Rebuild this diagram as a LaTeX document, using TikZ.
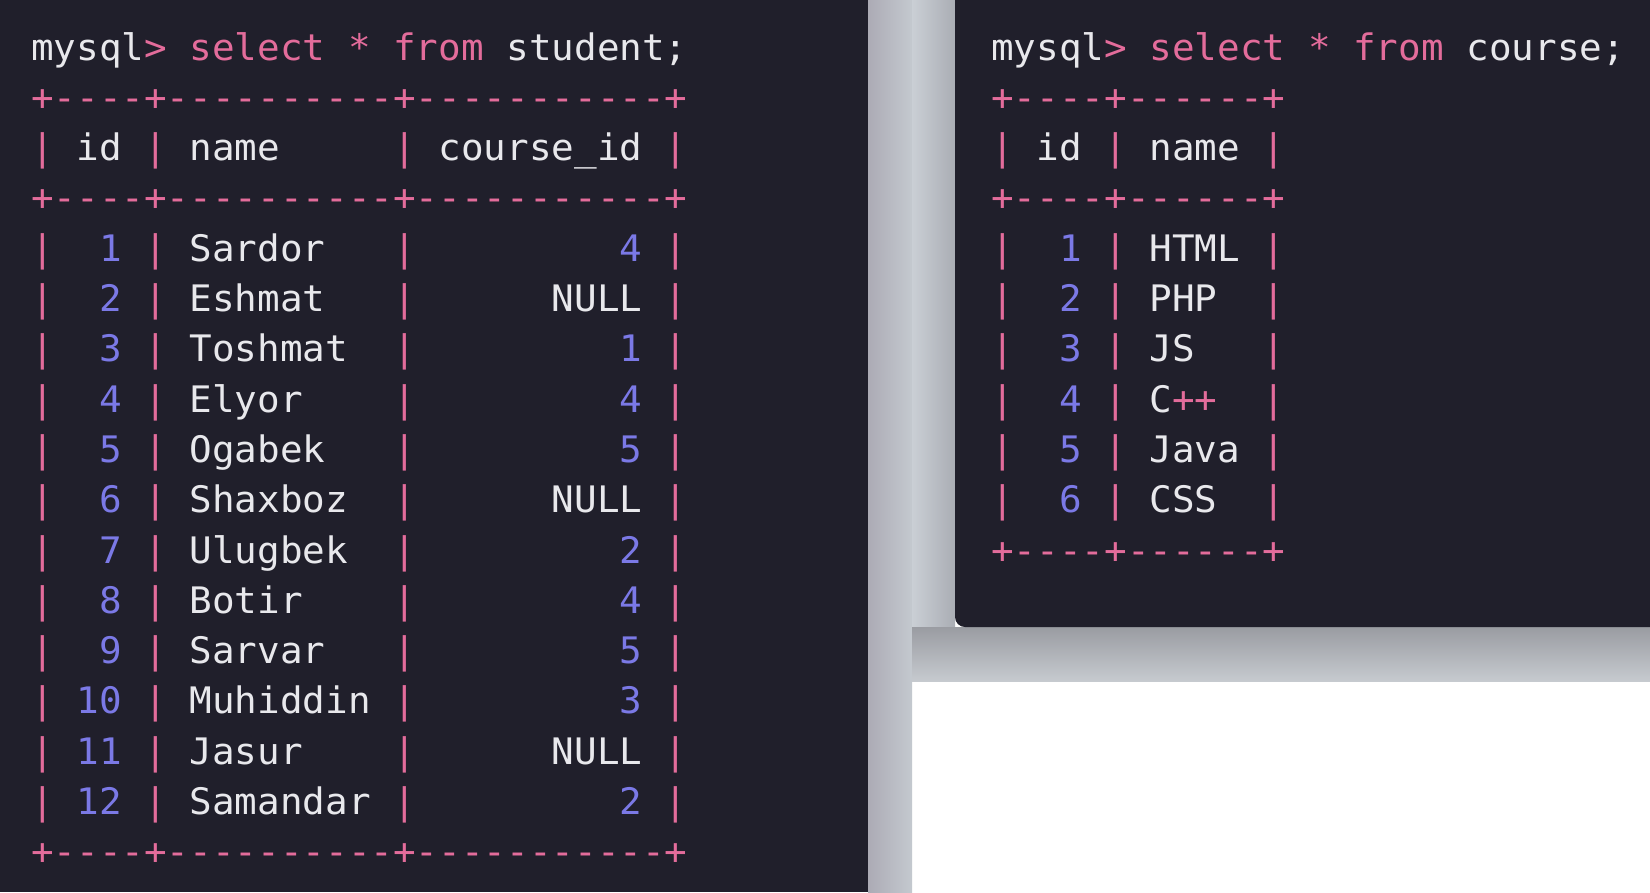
\documentclass[tikz,border=0pt]{standalone}
\usepackage{tikz}
\usepackage{fontspec}
\newfontfamily\sqlmono[Ligatures=TeXOff,FakeStretch=1.03]{DejaVu Sans Mono}
\definecolor{sqlpink}{RGB}{227,108,155}
\definecolor{sqlnum}{RGB}{123,121,230}
\definecolor{sqlwhite}{RGB}{232,232,236}
\newlength{\sqlcw}
\AtBeginDocument{\settowidth{\sqlcw}{\sqlmono\fontsize{36.5}{40}\selectfont 0}}
\newcommand{\pk}[1]{\textcolor{sqlpink}{#1}}
\newcommand{\nm}[1]{\textcolor{sqlnum}{#1}}
\newcommand{\sqlbar}{\pk{|}}
\newcommand{\sqlgap}{\hspace*{\sqlcw}}
\newcommand{\sqlcell}[3]{\makebox[#1\sqlcw][#2]{#3}}
\newcommand{\srow}[3]{\sqlbar\sqlgap\sqlcell{2}{r}{#1}\sqlgap\sqlbar\sqlgap\sqlcell{8}{l}{#2}\sqlgap\sqlbar\sqlgap\sqlcell{9}{r}{#3}\sqlgap\sqlbar}
\newcommand{\crow}[2]{\sqlbar\sqlgap\sqlcell{2}{r}{#1}\sqlgap\sqlbar\sqlgap\sqlcell{4}{l}{#2}\sqlgap\sqlbar}

\begin{document}
\begin{tikzpicture}[x=1pt, y=-1pt, sqltext/.style={font=\sqlmono\fontsize{36.5}{40}\selectfont, text=sqlwhite, anchor=base west, inner sep=0pt}]
\useasboundingbox (0,0) rectangle (1650,892);

\fill  [fill={rgb, 255:red, 255; green, 255; blue, 255 }]  (0,0) rectangle (1650,892);
\fill  [fill={rgb, 255:red, 32; green, 31; blue, 43 }]  (0,0) rectangle (868,892);
\shade [left color={rgb, 255:red, 172; green, 171; blue, 181 }, right color={rgb, 255:red, 196; green, 201; blue, 207 }]  (868,0) rectangle (912,892);
\shade [left color={rgb, 255:red, 202; green, 207; blue, 213 }, right color={rgb, 255:red, 170; green, 173; blue, 180 }]  (912,0) rectangle (955,681);
\shade [top color={rgb, 255:red, 154; green, 156; blue, 162 }, bottom color={rgb, 255:red, 198; green, 202; blue, 207 }]  (912,627) rectangle (1650,681);
\fill  [fill={rgb, 255:red, 32; green, 31; blue, 43 }, rounded corners=10pt]  (955,-20) -- (955,627) -- (1670,627) -- (1670,-20) -- cycle;

\draw (31,60.0) node [sqltext] (sprompt) {mysql\pk{> select * from} student;};
\draw (31,110.3) node [sqltext] (stop) {\pk{+----+----------+-----------+}};
\draw (31,160.6) node [sqltext] (shead) {\srow{id}{name}{course\_id}};
\draw (31,210.9) node [sqltext] (smid) {\pk{+----+----------+-----------+}};
\draw (31,261.2) node [sqltext] (s1) {\srow{\nm{1}}{Sardor}{\nm{4}}};
\draw (31,311.5) node [sqltext] (s2) {\srow{\nm{2}}{Eshmat}{NULL}};
\draw (31,361.8) node [sqltext] (s3) {\srow{\nm{3}}{Toshmat}{\nm{1}}};
\draw (31,412.1) node [sqltext] (s4) {\srow{\nm{4}}{Elyor}{\nm{4}}};
\draw (31,462.4) node [sqltext] (s5) {\srow{\nm{5}}{Ogabek}{\nm{5}}};
\draw (31,512.7) node [sqltext] (s6) {\srow{\nm{6}}{Shaxboz}{NULL}};
\draw (31,563.0) node [sqltext] (s7) {\srow{\nm{7}}{Ulugbek}{\nm{2}}};
\draw (31,613.3) node [sqltext] (s8) {\srow{\nm{8}}{Botir}{\nm{4}}};
\draw (31,663.6) node [sqltext] (s9) {\srow{\nm{9}}{Sarvar}{\nm{5}}};
\draw (31,713.9) node [sqltext] (s10) {\srow{\nm{10}}{Muhiddin}{\nm{3}}};
\draw (31,764.2) node [sqltext] (s11) {\srow{\nm{11}}{Jasur}{NULL}};
\draw (31,814.5) node [sqltext] (s12) {\srow{\nm{12}}{Samandar}{\nm{2}}};
\draw (31,864.8) node [sqltext] (sbot) {\pk{+----+----------+-----------+}};

\draw (991,60.0) node [sqltext] (cprompt) {mysql\pk{> select * from} course;};
\draw (991,110.3) node [sqltext] (ctop) {\pk{+----+------+}};
\draw (991,160.6) node [sqltext] (chead) {\crow{id}{name}};
\draw (991,210.9) node [sqltext] (cmid) {\pk{+----+------+}};
\draw (991,261.2) node [sqltext] (c1) {\crow{\nm{1}}{HTML}};
\draw (991,311.5) node [sqltext] (c2) {\crow{\nm{2}}{PHP}};
\draw (991,361.8) node [sqltext] (c3) {\crow{\nm{3}}{JS}};
\draw (991,412.1) node [sqltext] (c4) {\crow{\nm{4}}{C\pk{++}}};
\draw (991,462.4) node [sqltext] (c5) {\crow{\nm{5}}{Java}};
\draw (991,512.7) node [sqltext] (c6) {\crow{\nm{6}}{CSS}};
\draw (991,563.0) node [sqltext] (cbot) {\pk{+----+------+}};

\end{tikzpicture}
\end{document}
